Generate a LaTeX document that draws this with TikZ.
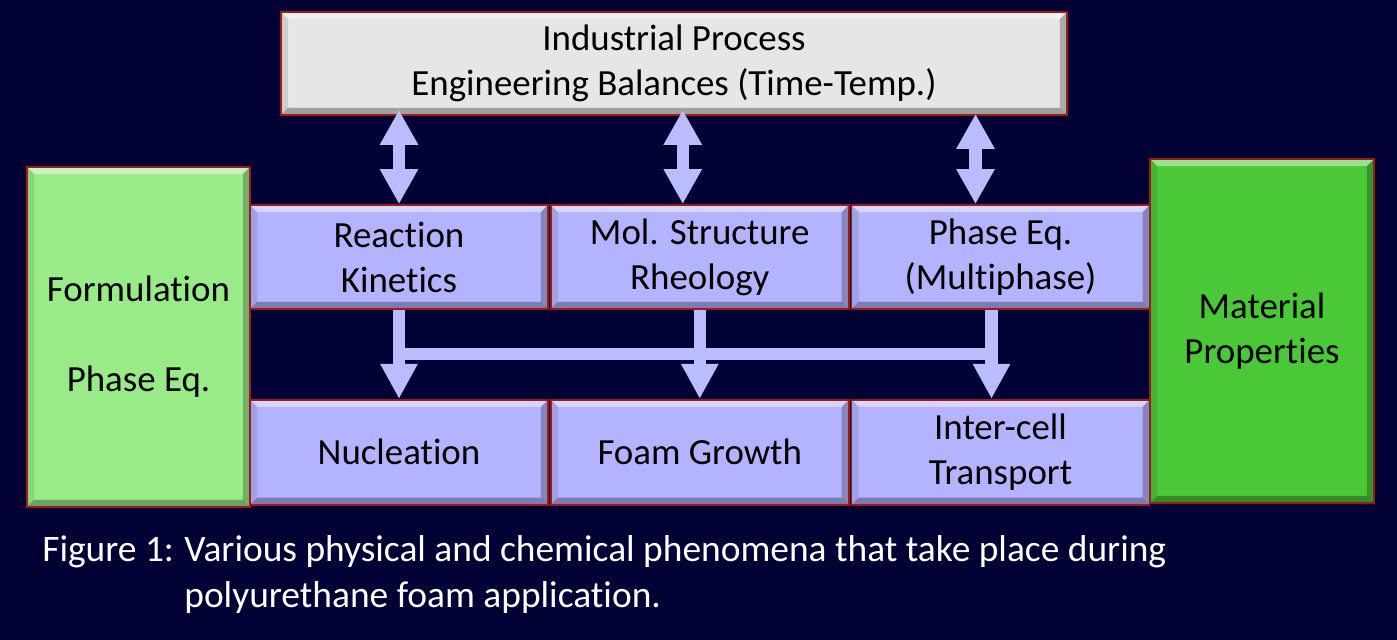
\documentclass[tikz,border=0pt]{standalone}
\usepackage{fontspec}
\setmainfont{Carlito}[Ligatures=NoCommon]
\usetikzlibrary{positioning,calc,arrows.meta}

\definecolor{navy}{RGB}{0,0,52}
\definecolor{boxred}{RGB}{160,24,24}
\definecolor{lav}{RGB}{179,179,255}
\definecolor{arrowlav}{RGB}{187,187,255}
\definecolor{palegreen}{RGB}{153,235,136}
\definecolor{leafgreen}{RGB}{74,200,56}
\definecolor{panelgray}{RGB}{230,230,230}

\tikzset{
    bevel/.style={path picture={
        \fill[white,opacity=.45] (path picture bounding box.north west) -- (path picture bounding box.north east) -- ([shift={(-4pt,-4pt)}]path picture bounding box.north east) -- ([shift={(4pt,-4pt)}]path picture bounding box.north west) -- cycle;
        \fill[black,opacity=.3] (path picture bounding box.south west) -- (path picture bounding box.south east) -- ([shift={(-4pt,4pt)}]path picture bounding box.south east) -- ([shift={(4pt,4pt)}]path picture bounding box.south west) -- cycle;
        \fill[black,opacity=.25] (path picture bounding box.north east) -- (path picture bounding box.south east) -- ([shift={(-4pt,4pt)}]path picture bounding box.south east) -- ([shift={(-4pt,-4pt)}]path picture bounding box.north east) -- cycle;
        \fill[black,opacity=.1] (path picture bounding box.north west) -- (path picture bounding box.south west) -- ([shift={(4pt,4pt)}]path picture bounding box.south west) -- ([shift={(4pt,-4pt)}]path picture bounding box.north west) -- cycle;
    }},
}

\begin{document}
\begin{tikzpicture}[
    box/.style={rectangle, draw=boxred, line width=1pt, bevel, align=center, inner sep=0pt, font=\fontsize{21}{25.6}\selectfont},
    stage/.style={box, fill=lav, minimum width=5.96cm, minimum height=2.08cm},
    dblarrow/.style={draw=arrowlav, line width=0.25cm, {Triangle[width=0.72cm,length=0.7cm]}-{Triangle[width=0.72cm,length=0.7cm]}},
    downarrow/.style={draw=arrowlav, line width=0.25cm, -{Triangle[width=0.7cm,length=0.7cm]}},
    caption/.style={text=white, inner sep=0pt, font=\fontsize{21.3}{26.6}\selectfont}
]
        % background and page size
        \fill[navy] (0,0) rectangle (27.94,12.8);
        \useasboundingbox (0,0) rectangle (27.94,12.8);

        %-----Entities-----

        % Industrial Process Entity
        \node [box, fill=panelgray, minimum width=15.72cm, minimum height=2.06cm] (proc) at (13.48,11.53) {%
            Industrial Process \\
            Engineering Balances (Time-Temp.)
        };

        % Formulation Entity
        \node [box, fill=palegreen, minimum width=4.46cm, minimum height=6.8cm] (form) at (2.77,6.06) {%
            Formulation \\[0.9cm]
            Phase Eq.
        };

        % Upper row
        \node [stage] (kin) at (7.98,7.66) {Reaction \\ Kinetics};
        \node [stage, right=0.02cm of kin] (rheo) {Mol. Structure \\ Rheology};
        \node [stage, right=0.02cm of rheo] (phase) {Phase Eq. \\ (Multiphase)};

        % Lower row
        \node [stage, below=1.78cm of kin, minimum height=2.1cm] (nucl) {Nucleation};
        \node [stage, right=0.02cm of nucl, minimum height=2.1cm] (growth) {Foam Growth};
        \node [stage, right=0.02cm of growth, minimum height=2.1cm] (trans) {Inter-cell \\ Transport};

        % Material Properties Entity
        \node [box, fill=leafgreen, minimum width=4.48cm, minimum height=6.88cm] (mat) at (25.24,6.18) {%
            Material \\
            Properties
        };

        %-----Arrows-----

        % Process to upper row
        \draw[dblarrow] (kin.north) -- ([yshift=0.12cm]kin.north |- proc.south);
        \draw[dblarrow] ([xshift=-0.34cm]rheo.north) -- ([xshift=-0.34cm,yshift=0.12cm]rheo.north |- proc.south);
        \draw[dblarrow] ([xshift=-0.5cm]phase.north) -- ([xshift=-0.5cm,yshift=0.04cm]phase.north |- proc.south);

        % upper row to lower row
        \coordinate (bar) at ($(kin.south)!0.5!(nucl.north)$);
        \draw[draw=arrowlav, line width=0.24cm] (kin.south |- bar) -- ([xshift=-0.18cm]phase.south |- bar);
        \draw[downarrow] (kin.south) -- (nucl.north);
        \draw[downarrow] (rheo.south) -- (growth.north);
        \draw[downarrow] ([xshift=-0.18cm]phase.south) -- ([xshift=-0.18cm]trans.north);

        %-----Caption-----
        \node [caption, anchor=north west] (cap) at (0.84,2.24) {%
            \begin{tabular}{@{}p{2.84cm}@{}l@{}}
                Figure 1: & Various physical and chemical phenomena that take place during \\
                          & polyurethane foam application.
            \end{tabular}
        };
\end{tikzpicture}
\end{document}
